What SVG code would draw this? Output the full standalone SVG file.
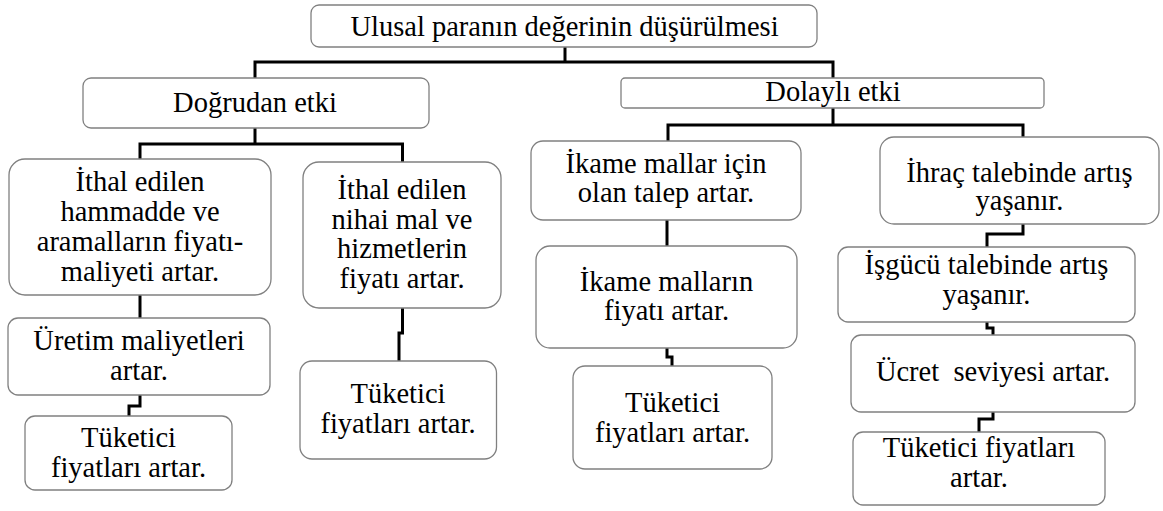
<svg xmlns="http://www.w3.org/2000/svg" width="1163" height="511" viewBox="0 0 1163 511">
<style>
.box{fill:#fff;stroke:#808080;stroke-width:1.3}
.c{fill:none;stroke:#000;stroke-width:3;stroke-linejoin:miter}
</style>
<rect width="1163" height="511" fill="#fff"/>
<g id="connectors">
<path class="c" d="M255,78 V62 H833 V78 M565,47 V62"/>
<path class="c" d="M255,128 V144 M140,159 V144 H402.5 V162"/>
<path class="c" d="M833,108 V125 M668,141 V125 H1023 V137"/>
<path class="c" d="M140,295 V318"/>
<path class="c" d="M140,395 V406 H129 V416"/>
<path class="c" d="M402.5,308 V333 H399 V361"/>
<path class="c" d="M667,220 V246"/>
<path class="c" d="M667,348 V357 H672 V366"/>
<path class="c" d="M1023,224 V234 H987 V247"/>
<path class="c" d="M987,322 V328 H993 V335"/>
<path class="c" d="M993,412 V419 H979 V432"/>
</g>
<g id="nodes" font-family="Liberation Serif, Times New Roman, serif" font-size="28.5" text-anchor="middle" fill="#000">
<g id="n-top">
<rect class="box" x="311" y="5" width="506" height="42" rx="8"/>
<text x="564.5" y="36">Ulusal paranın değerinin düşürülmesi</text>
</g>
<g id="n-dogrudan">
<rect class="box" x="83" y="78" width="346" height="50" rx="8"/>
<text x="255" y="112">Doğrudan etki</text>
</g>
<g id="n-dolayli">
<rect class="box" x="621" y="78" width="423" height="30" rx="4"/>
<text x="833" y="101">Dolaylı etki</text>
</g>
<g id="n-hammadde">
<rect class="box" x="9" y="159" width="262" height="136" rx="16"/>
<text x="140" y="191">İthal edilen</text>
<text x="140" y="221">hammadde ve</text>
<text x="140" y="251">aramalların fiyatı-</text>
<text x="140" y="281">maliyeti artar.</text>
</g>
<g id="n-nihai">
<rect class="box" x="303" y="162" width="198" height="146" rx="16"/>
<text x="402" y="199">İthal edilen</text>
<text x="402" y="228.5">nihai mal ve</text>
<text x="402" y="258">hizmetlerin</text>
<text x="402" y="288">fiyatı artar.</text>
</g>
<g id="n-uretim">
<rect class="box" x="8" y="318" width="262" height="77" rx="10"/>
<text x="139" y="350">Üretim maliyetleri</text>
<text x="139" y="380">artar.</text>
</g>
<g id="n-tuketici1">
<rect class="box" x="25" y="416" width="207" height="74" rx="10"/>
<text x="128.5" y="447">Tüketici</text>
<text x="128.5" y="477">fiyatları artar.</text>
</g>
<g id="n-tuketici2">
<rect class="box" x="300" y="361" width="196.5" height="98" rx="12"/>
<text x="398" y="403">Tüketici</text>
<text x="398" y="433">fiyatları artar.</text>
</g>
<g id="n-ikame-talep">
<rect class="box" x="531" y="141" width="270" height="79" rx="12"/>
<text x="666" y="173">İkame mallar için</text>
<text x="666" y="202">olan talep artar.</text>
</g>
<g id="n-ikame-fiyat">
<rect class="box" x="536" y="246" width="261" height="102" rx="14"/>
<text x="666.5" y="290.5">İkame malların</text>
<text x="666.5" y="319.5">fiyatı artar.</text>
</g>
<g id="n-tuketici3">
<rect class="box" x="573" y="366" width="199" height="103" rx="12"/>
<text x="672.5" y="412">Tüketici</text>
<text x="672.5" y="442">fiyatları artar.</text>
</g>
<g id="n-ihrac">
<rect class="box" x="880" y="137" width="279" height="87" rx="14"/>
<text x="1019.5" y="182">İhraç talebinde artış</text>
<text x="1019.5" y="210">yaşanır.</text>
</g>
<g id="n-isgucu">
<rect class="box" x="838" y="247" width="297" height="75" rx="10"/>
<text x="986.5" y="273.5">İşgücü talebinde artış</text>
<text x="986.5" y="303.5">yaşanır.</text>
</g>
<g id="n-ucret">
<rect class="box" x="851" y="335" width="284" height="77" rx="10"/>
<text x="993" y="381" xml:space="preserve">Ücret  seviyesi artar.</text>
</g>
<g id="n-tuketici4">
<rect class="box" x="853" y="432" width="252" height="73" rx="10"/>
<text x="979" y="457">Tüketici fiyatları</text>
<text x="979" y="487">artar.</text>
</g>
</g>
</svg>
